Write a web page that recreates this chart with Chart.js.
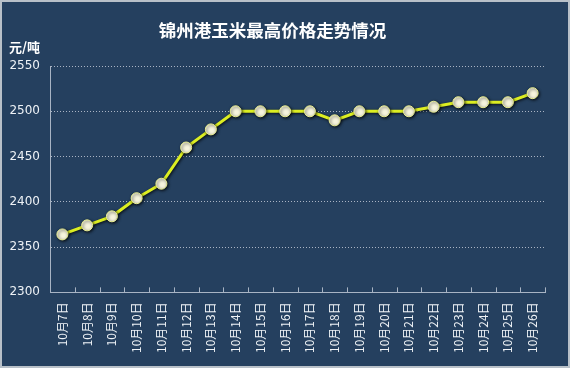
<!DOCTYPE html>
<html>
<head>
<meta charset="utf-8">
<script src="https://cdn.jsdelivr.net/npm/chart.js@4"></script>
<style>
  html, body { margin: 0; padding: 0; background: #25405f; }
  canvas { display: block; }
</style>
</head>
<body>
<canvas id="myChart" width="570" height="368"></canvas>
<script>
const days = ['10月7日', '10月8日', '10月9日', '10月10日', '10月11日', '10月12日', '10月13日',
    '10月14日', '10月15日', '10月16日', '10月17日', '10月18日', '10月19日', '10月20日',
    '10月21日', '10月22日', '10月23日', '10月24日', '10月25日', '10月26日'];
const prices = [2364, 2374, 2384, 2404, 2420, 2460, 2480, 2500, 2500, 2500,
    2500, 2490, 2500, 2500, 2500, 2505, 2510, 2510, 2510, 2520];
const yMin = 2300, yMax = 2550, yStep = 50;

const bg = {
    id: 'bg',
    beforeDraw(chart) {
        const c = chart.ctx;
        c.save();
        c.fillStyle = '#25405f';
        c.fillRect(0, 0, chart.width, chart.height);
        c.strokeStyle = '#b8c0c8';
        c.lineWidth = 2;
        c.strokeRect(1, 1, chart.width - 2, chart.height - 2);
        c.fillStyle = '#ffffff';
        c.font = 'bold 13px "Noto Sans CJK SC"';
        c.textBaseline = 'middle';
        c.fillText('元/吨', 9, 47);
        c.restore();
    },
    afterDraw(chart) {
        // small tick marks pointing up from the x axis, between categories
        const x = chart.scales.x, c = chart.ctx, bottom = chart.chartArea.bottom;
        const half = (x.getPixelForValue(1) - x.getPixelForValue(0)) / 2;
        c.save();
        c.strokeStyle = '#a8b4c4';
        c.lineWidth = 1;
        for (let i = 0; i <= days.length; i++) {
            const px = Math.round(x.getPixelForValue(i) - half) + 0.5;
            c.beginPath();
            c.moveTo(px, bottom);
            c.lineTo(px, bottom - 5);
            c.stroke();
        }
        c.restore();
    }
};

const glow = {
    id: 'glow',
    beforeDatasetDraw(chart) {
        chart.ctx.save();
        chart.ctx.shadowColor = 'rgba(0,0,0,0.8)';
        chart.ctx.shadowBlur = 3;
        chart.ctx.shadowOffsetX = 1;
        chart.ctx.shadowOffsetY = 1;
    },
    afterDatasetDraw(chart) {
        chart.ctx.restore();
    }
};

new Chart(document.getElementById('myChart'), {
    type: 'line',
    data: {
        labels: days,
        datasets: [{
            data: prices,
            borderColor: '#dcee22',
            borderWidth: 3,
            pointRadius: 5.5,
            pointBackgroundColor: '#f6f4dc',
            pointBorderColor: '#e8ee90',
            pointBorderWidth: 1,
            tension: 0
        }]
    },
    options: {
        responsive: false,
        animation: false,
        layout: { padding: { left: 0, right: 25, top: 0, bottom: 5 } },
        plugins: {
            legend: { display: false },
            tooltip: { enabled: false },
            title: {
                display: true,
                text: '锦州港玉米最高价格走势情况',
                color: '#ffffff',
                font: { size: 17.5, weight: 'bold', family: '"Noto Sans CJK SC"' },
                padding: { top: 20, bottom: 25 }
            }
        },
        scales: {
            x: {
                offset: true,
                grid: { display: false, drawTicks: false },
                border: { display: true, color: '#a8b4c4', width: 1 },
                ticks: {
                    color: '#eef2f6',
                    font: { size: 12, family: '"Noto Sans CJK SC"' },
                    minRotation: 90,
                    maxRotation: 90,
                    autoSkip: false,
                    padding: 10
                }
            },
            y: {
                min: yMin,
                max: yMax,
                afterFit(scale) { scale.width = 50; },
                grid: {
                    color: '#aab4c4',
                    lineWidth: 1,
                    drawTicks: false
                },
                border: { display: true, color: '#a8b4c4', width: 1, dash: [1, 2] },
                ticks: {
                    stepSize: yStep,
                    color: '#eef2f6',
                    font: { size: 12, family: 'Verdana, "DejaVu Sans"' },
                    padding: 10,
                    callback: v => String(v)
                }
            }
        }
    },
    plugins: [bg, glow]
});
</script>
</body>
</html>
